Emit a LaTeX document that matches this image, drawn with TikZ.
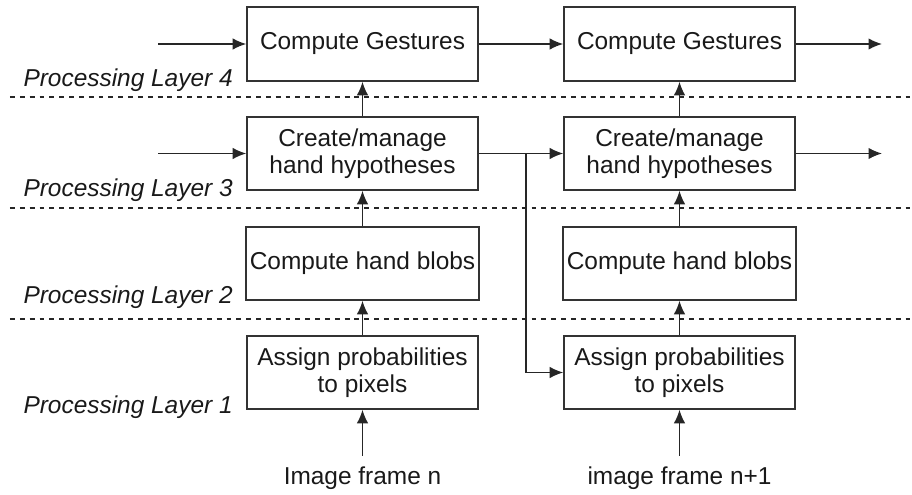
\documentclass[tikz,border=0pt]{standalone}
\usepackage{fontspec}
\setmainfont{Liberation Sans}
\usetikzlibrary{arrows.meta, positioning}

\begin{document}
\begin{tikzpicture}

  % Define styles
  \tikzstyle{procbox} = [rectangle, draw=black!80, line width=0.9pt, minimum width=4.62cm, minimum height=1.46cm, align=center, inner sep=2pt, text=black!90, font=\fontsize{13.9}{15.4}\selectfont]
  \tikzstyle{layerlabel} = [anchor=east, inner sep=0pt, text=black!90, font=\fontsize{13.9}{15.4}\selectfont\itshape]
  \tikzstyle{framelabel} = [inner sep=0pt, text=black!90, font=\fontsize{13.9}{15.4}\selectfont]
  \tikzstyle{arrow} = [draw=black!85, line width=0.8pt, -{Latex[length=2.7mm, width=2.3mm]}]
  \tikzstyle{layer_line} = [draw=black!85, line width=1pt, dash pattern=on 2.8pt off 2.8pt]

  \useasboundingbox (0,0) rectangle (18.24,9.9);

  % Layer separators
  \draw[layer_line] (0.2, 7.96) -- (18.24, 7.96);
  \draw[layer_line] (0.2, 5.74) -- (18.24, 5.74);
  \draw[layer_line] (0.2, 3.52) -- (18.24, 3.52);

  % Labels
  \node[layerlabel] (lay4) at (4.66, 8.30) {Processing Layer 4};
  \node[layerlabel] (lay3) at (4.66, 6.10) {Processing Layer 3};
  \node[layerlabel] (lay2) at (4.66, 3.96) {Processing Layer 2};
  \node[layerlabel] (lay1) at (4.66, 1.76) {Processing Layer 1};

  % Frame n
  \node[procbox, minimum height=1.48cm] (gest1) at (7.25, 9.02) {Compute Gestures};
  \node[procbox] (hyp1) at (7.25, 6.83) {Create/manage\\hand hypotheses};
  \node[procbox] (blob1) at (7.25, 4.63) {Compute hand blobs};
  \node[procbox] (prob1) at (7.25, 2.45) {Assign probabilities\\to pixels};
  \node[framelabel] (frame1) at (7.25, 0.34) {Image frame n};

  % Frame n+1
  \node[procbox, minimum height=1.48cm] (gest2) at (13.59, 9.02) {Compute Gestures};
  \node[procbox] (hyp2) at (13.59, 6.83) {Create/manage\\hand hypotheses};
  \node[procbox] (blob2) at (13.59, 4.63) {Compute hand blobs};
  \node[procbox] (prob2) at (13.59, 2.45) {Assign probabilities\\to pixels};
  \node[framelabel] (frame2) at (13.59, 0.34) {image frame n+1};

  % Free ends
  \coordinate (gin) at (3.16, 9.02);
  \coordinate (hin) at (3.16, 6.83);
  \coordinate (gout) at (17.64, 9.02);
  \coordinate (hout) at (17.64, 6.83);
  \coordinate (in1) at (7.25, 0.78);
  \coordinate (in2) at (13.59, 0.78);
  \coordinate (split) at (10.52, 6.83);

  % Upward connections
  \draw[arrow] (in1) -- (prob1.south);
  \draw[arrow] (prob1) -- (blob1);
  \draw[arrow] (blob1) -- (hyp1);
  \draw[arrow] (hyp1) -- (gest1);
  \draw[arrow] (in2) -- (prob2.south);
  \draw[arrow] (prob2) -- (blob2);
  \draw[arrow] (blob2) -- (hyp2);
  \draw[arrow] (hyp2) -- (gest2);

  % Connections in time
  \draw[arrow] (gin) -- (gest1.west);
  \draw[arrow] (hin) -- (hyp1.west);
  \draw[arrow] (gest1) -- (gest2);
  \draw[arrow] (hyp1) -- (hyp2);
  \draw[arrow] (gest2.east) -- (gout);
  \draw[arrow] (hyp2.east) -- (hout);
  \draw[arrow] (split) |- (prob2.west);

\end{tikzpicture}
\end{document}
